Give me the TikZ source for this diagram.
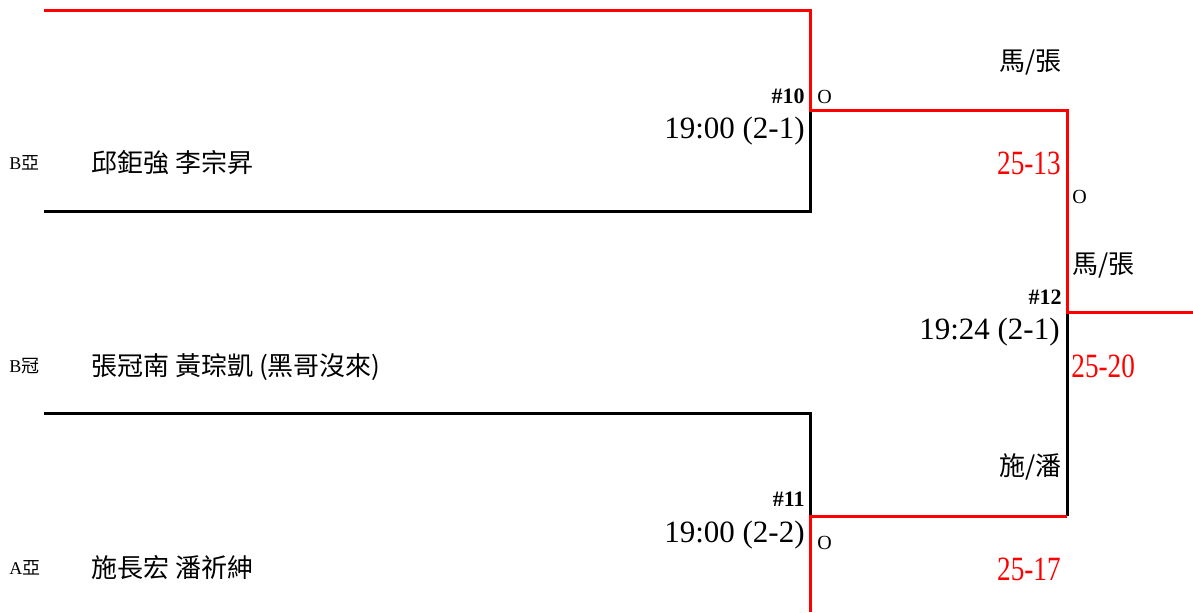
\documentclass[tikz,border=0pt]{standalone}
\usepackage{fontspec}
\usepackage{tikz}
\usepackage{xcolor}
\usetikzlibrary{positioning}
\setmainfont{Liberation Serif}
\newfontfamily\cjk{Noto Sans CJK TC}
\definecolor{brRed}{RGB}{255,0,0}
\newcommand{\seedfont}{\fontsize{9}{11}\selectfont}
\newcommand{\namefont}{\cjk\fontsize{13}{16}\selectfont}
\newcommand{\timefont}{\fontsize{15.5}{19}\selectfont}
\newcommand{\scorefont}{\fontsize{17}{20}\selectfont}
\newcommand{\brscore}[1]{\scalebox{0.8}[1]{#1}}
\tikzset{
  winpath/.style={draw=brRed,line width=1.5pt},
  losepath/.style={draw=black,line width=1.5pt},
  seed/.style={inner sep=0pt,anchor=west,font=\seedfont},
  team/.style={inner sep=0pt,anchor=west,font=\namefont},
  matchno/.style={inner sep=0pt,anchor=east,font=\fontsize{11}{13}\selectfont\bfseries},
  matchtime/.style={inner sep=0pt,anchor=east,font=\timefont},
  umpire/.style={inner sep=0pt,font=\namefont},
  score/.style={inner sep=0pt,text=brRed,font=\scorefont},
  winmark/.style={inner sep=0pt,anchor=west,font=\fontsize{10}{12}\selectfont}
}

\begin{document}
\begin{tikzpicture}[x=0.5pt,y=-0.5pt]
  \useasboundingbox (0,0) rectangle (1193,612);
  % bracket corners
  \coordinate (a1) at (44,10);   \coordinate (a2) at (810,10);
  \coordinate (b1) at (44,211);  \coordinate (b2) at (810,211);
  \coordinate (c1) at (44,413);  \coordinate (c2) at (810,413);
  \coordinate (j10) at (810,110); \coordinate (j11) at (810,516);
  \coordinate (e1) at (1067,110); \coordinate (e2) at (1067,516);
  \coordinate (j12) at (1067,312); \coordinate (fin) at (1193,312);
  \coordinate (d2) at (810,612);
  \draw[losepath] (b1) -- (b2) -- (j10);
  \draw[losepath] (c1) -- (c2) -- (j11);
  \draw[losepath] (j12) -- (e2);
  \draw[winpath] (a1) -- (a2) -- (j10) -- (e1) -- (j12) -- (fin);
  \draw[winpath] (d2) -- (j11) -- (e2);

  % teams
  \node[seed] (s1) at (9,163) {B{\cjk 亞}};
  \node[team] (t1) at (91,163) {邱鉅強 李宗昇};
  \node[seed] (s2) at (9,366) {B{\cjk 冠}};
  \node[team] (t2) at (91,367) {張冠南 黃琮凱 (黑哥沒來)};
  \node[seed] (s3) at (9,568) {A{\cjk 亞}};
  \node[team] (t3) at (91,568) {施長宏 潘祈紳};

  % match 10
  \node[matchno] (n10) at (805,96) {\#10};
  \node[winmark] (o10) at (817,97) {O};
  \node[matchtime] (h10) at (805,131) {19:00 (2-1)};
  \node[umpire,anchor=east] (u10) at (1062,62) {馬/張};
  \node[score,anchor=east] (r10) at (1061,163) {\brscore{25-13}};
  \node[winmark] (o12) at (1072,197) {O};

  % match 12
  \node[umpire,anchor=west] (u12) at (1072,265) {馬/張};
  \node[matchno] (n12) at (1062,297) {\#12};
  \node[matchtime] (h12) at (1060,332) {19:24 (2-1)};
  \node[score,anchor=west] (r12) at (1071,366) {\brscore{25-20}};

  % match 11
  \node[umpire,anchor=east] (u11) at (1062,467) {施/潘};
  \node[matchno] (n11) at (805,499) {\#11};
  \node[matchtime] (h11) at (805,535) {19:00 (2-2)};
  \node[winmark] (o11) at (817,543) {O};
  \node[score,anchor=east] (r11) at (1061,569) {\brscore{25-17}};
\end{tikzpicture}
\end{document}
